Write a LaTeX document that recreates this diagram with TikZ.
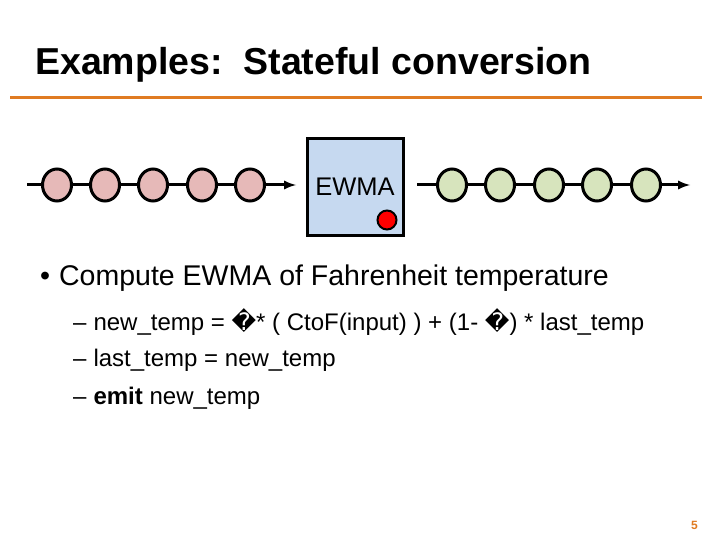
\documentclass[tikz,border=0pt]{standalone}
\usepackage{fontspec}
\setmainfont{Liberation Sans}
\newfontfamily\dv{DejaVu Sans}
\usetikzlibrary{shapes.geometric}
\definecolor{orng}{HTML}{E07B22}
\definecolor{pinkf}{HTML}{E6B9B8}
\definecolor{greenf}{HTML}{D7E4BD}
\definecolor{bluef}{HTML}{C6D9F0}
\begin{document}
\begin{tikzpicture}[x=1pt,y=-1pt,
  ev/.style={ellipse,draw=black,line width=3pt,minimum width=29pt,minimum height=32pt,inner sep=0pt},
  strm/.style={line width=3pt,-latex}]
\useasboundingbox (0,0) rectangle (720,540);
\node[anchor=base west,font=\bfseries\fontsize{37.5}{44}\selectfont,inner sep=0] (title) at (35,75) {Examples:\ \ Stateful conversion};
\draw[orng,line width=3pt] (10,98) -- (702,98);
% left stream
\coordinate (ls) at (27,185); \coordinate (le) at (296,185);
\draw[strm] (ls) -- (le);
\foreach \x/\n in {57/a,105/b,153/c,202/d,250/e}
  \node[ev,fill=pinkf] (l\n) at (\x,185) {};
% box
\node[draw=black,line width=3pt,fill=bluef,minimum width=96pt,minimum height=96pt,inner sep=0] (box) at (355,187) {};
\node[font=\fontsize{25.5}{30}\selectfont] (ewma) at (355,187) {EWMA};
\node[circle,draw=black,line width=2pt,fill=red,minimum size=19pt,inner sep=0] (dot) at (387,220) {};
% right stream
\coordinate (rs) at (417,185); \coordinate (re) at (690,185);
\draw[strm] (rs) -- (re);
\foreach \x/\n in {452/a,500/b,549/c,597/d,646/e}
  \node[ev,fill=greenf] (r\n) at (\x,185) {};
% bullets
\node[anchor=base west,inner sep=0,font=\fontsize{28.5}{32}\selectfont] (b1) at (40,285) {•\hspace{9pt}Compute EWMA of Fahrenheit temperature};
\begin{scope}[every node/.style={anchor=base west,inner sep=0,font=\fontsize{24}{28}\selectfont}]
\node (s1) at (73,330) {–\hspace{7pt}new\_temp = {\dv �}* ( CtoF(input) ) + (1- {\dv �}) * last\_temp};
\node (s2) at (73,366) {–\hspace{7pt}last\_temp = new\_temp};
\node (s3) at (73,404) {–\hspace{7pt}\textbf{emit} new\_temp};
\end{scope}
\node[anchor=base east,inner sep=0,text=orng,font=\bfseries\fontsize{12}{14}\selectfont] (pg) at (698,529) {5};
\end{tikzpicture}
\end{document}
